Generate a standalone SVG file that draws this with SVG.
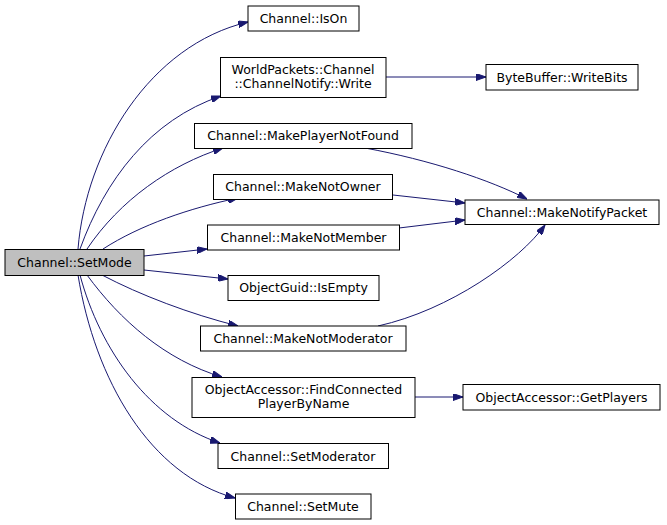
<svg xmlns="http://www.w3.org/2000/svg" width="667" height="525" viewBox="0 0 667 525">
<style>
.n rect{fill:#fff;stroke:#000;stroke-width:1}
.n text{font-family:"DejaVu Sans","Liberation Sans",sans-serif;font-size:12.5px;text-anchor:middle;fill:#000}
.e path{fill:none;stroke:#191970;stroke-width:1}
</style>
<defs>
<marker id="a" viewBox="0 0 10 7" refX="10" refY="3.5" markerWidth="10" markerHeight="7" markerUnits="userSpaceOnUse" orient="auto">
<path d="M0,0 L10,3.5 L0,7 z" fill="#191970" stroke="#191970"/>
</marker>
</defs>
<rect width="667" height="525" fill="#fff"/>
<g class="e">
<path d="M78,249 C86,150 150,45 248,22" marker-end="url(#a)"/>
<path d="M80,249 C105,180 150,120 221,96" marker-end="url(#a)"/>
<path d="M87,249 C120,200 170,165 223,148" marker-end="url(#a)"/>
<path d="M103,249 C140,225 190,208 238,198" marker-end="url(#a)"/>
<path d="M144,256 L207,249" marker-end="url(#a)"/>
<path d="M144,270 L228,279" marker-end="url(#a)"/>
<path d="M102,275 C140,295 190,314 238,326" marker-end="url(#a)"/>
<path d="M87,275 C120,320 165,360 222,377" marker-end="url(#a)"/>
<path d="M80,275 C100,350 150,420 220,443" marker-end="url(#a)"/>
<path d="M78,275 C95,380 150,475 235,498" marker-end="url(#a)"/>
<path d="M386,77 L486,77" marker-end="url(#a)"/>
<path d="M365,148 C430,160 490,180 527,199" marker-end="url(#a)"/>
<path d="M393,195 L465,203" marker-end="url(#a)"/>
<path d="M399,228 L465,220" marker-end="url(#a)"/>
<path d="M378,326 C450,310 520,260 545,225" marker-end="url(#a)"/>
<path d="M415,397 L463,397" marker-end="url(#a)"/>
</g>
<g id="setmode" class="n"><rect x="5" y="249.5" width="139" height="26" style="fill:#bfbfbf"/><text x="74.5" y="266.5">Channel::SetMode</text></g>
<g id="ison" class="n"><rect x="248" y="6" width="111" height="25"/><text x="303.5" y="22.5">Channel::IsOn</text></g>
<g id="write" class="n"><rect x="220.5" y="57.5" width="165.5" height="40"/><text x="303" y="74">WorldPackets::Channel</text><text x="303" y="88">::ChannelNotify::Write</text></g>
<g id="writebits" class="n"><rect x="486" y="64.5" width="152" height="25.5"/><text x="562" y="81.5">ByteBuffer::WriteBits</text></g>
<g id="mpnf" class="n"><rect x="194.5" y="123.5" width="217.5" height="25"/><text x="303" y="140">Channel::MakePlayerNotFound</text></g>
<g id="mno" class="n"><rect x="213.5" y="174.5" width="179" height="25"/><text x="303" y="191">Channel::MakeNotOwner</text></g>
<g id="mnp" class="n"><rect x="465" y="200" width="194" height="24.5"/><text x="562" y="216.5">Channel::MakeNotifyPacket</text></g>
<g id="mnm" class="n"><rect x="207.5" y="225" width="192" height="25"/><text x="303.5" y="241.5">Channel::MakeNotMember</text></g>
<g id="isempty" class="n"><rect x="228" y="275.5" width="151" height="25"/><text x="303.5" y="292">ObjectGuid::IsEmpty</text></g>
<g id="mnmod" class="n"><rect x="200.5" y="326" width="205.5" height="25"/><text x="303" y="342.5">Channel::MakeNotModerator</text></g>
<g id="fcp" class="n"><rect x="192" y="377.5" width="223" height="40"/><text x="303.5" y="394">ObjectAccessor::FindConnected</text><text x="303.5" y="408">PlayerByName</text></g>
<g id="gp" class="n"><rect x="463" y="384.5" width="197" height="25.5"/><text x="561.5" y="401.5">ObjectAccessor::GetPlayers</text></g>
<g id="setmoderator" class="n"><rect x="218" y="443.5" width="170.5" height="25"/><text x="303" y="460.5">Channel::SetModerator</text></g>
<g id="setmute" class="n"><rect x="235.5" y="494" width="135.5" height="25"/><text x="303" y="510.5">Channel::SetMute</text></g>
</svg>
